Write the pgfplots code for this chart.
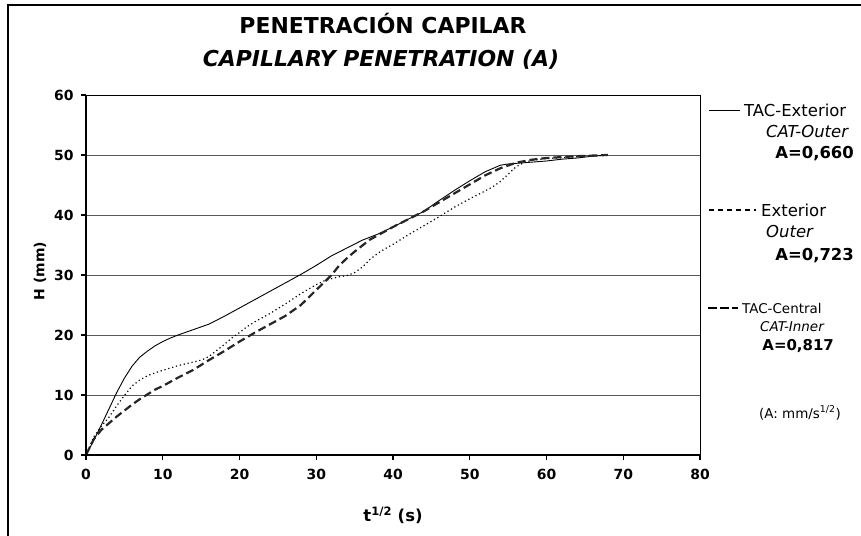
\documentclass[border=0pt]{standalone}
\usepackage{fontspec}
\setmainfont{DejaVu Sans}
\usepackage{pgfplots}
\pgfplotsset{compat=1.18}
\begin{document}
\begin{tikzpicture}[x=1bp,y=1bp]
\useasboundingbox (0,0) rectangle (861,536);
\draw[line width=2.2bp] (8,0) -- (8,531) -- (861,531);
\begin{axis}[at={(86bp,81bp)}, anchor=origin, scale only axis,
  width=614bp, height=360bp,
  xmin=0, xmax=80, ymin=0, ymax=60,
  xtick={0,10,...,80}, ytick={0,10,...,60},
  tick pos=left, tick align=outside, major tick length=5bp,
  tick style={black, line width=1.2bp},
  axis line style={black, line width=0.9bp},
  ymajorgrids, grid style={black!65, line width=0.9bp},
  tick label style={font=\fontsize{14}{16}\selectfont\bfseries},
  xticklabel style={yshift=-6bp},
  yticklabel style={xshift=-4bp},
  /pgf/number format/assume math mode=true,
  clip=false]
\addplot[black, line width=0.9bp] coordinates {
(0,0) (1,2.4) (2,5) (3,7.7) (4,10.4) (5,12.8) (6,14.8) (7,16.3) (8,17.3) (9,18.2) (10,18.9) (11,19.5) (12,20) (14,20.9) (16,21.8) (18,23.1) (20,24.5) (22,25.9) (24,27.3) (26,28.7) (28,30.1) (30,31.6) (32,33.2) (34,34.5) (36,35.8) (38,36.8) (40,38) (42,39.3) (44,40.6) (46,42.4) (48,44.1) (50,45.7) (52,47.2) (54,48.3) (55,48.5) (56,48.6) (58,48.8) (60,49.0) (62,49.3) (64,49.5) (66,49.8) (68,50)
};
\addplot[black, line width=1.2bp, dash pattern=on 1.2bp off 2.8bp] coordinates {
(0,0) (1,3) (2,4.8) (3,6.3) (4,8.2) (5,9.9) (6,11.5) (7,12.5) (8,13.2) (9,13.7) (10,14.1) (11,14.5) (12,14.9) (13,15.2) (14,15.5) (15,15.8) (16,16.4) (17,17.4) (18,18.4) (19,19.5) (20,20.4) (21,21.4) (22,22.2) (24,23.6) (26,25.2) (28,26.9) (30,28.4) (31,29) (32,29.4) (33,29.7) (34,29.9) (35,30.4) (36,31.3) (37,32.6) (38,33.6) (39,34.4) (40,35.1) (42,36.7) (44,38.2) (46,39.7) (48,41.3) (50,42.7) (52,44) (53,44.7) (54,45.6) (55,46.8) (56,48) (57,48.7) (58,49.1) (60,49.4) (64,49.7) (68,50)
};
\addplot[black!85, line width=2.2bp, dash pattern=on 8bp off 4bp] coordinates {
(0,0) (1,2.6) (2,4.2) (3,5.3) (4,6.4) (5,7.4) (6,8.4) (7,9.3) (8,10.1) (9,10.9) (10,11.5) (12,12.9) (14,14.2) (16,15.8) (18,17.3) (20,18.9) (22,20.4) (24,21.8) (26,23.2) (28,25) (30,27.5) (32,30) (33,31.6) (34,32.8) (35,33.9) (36,34.9) (37,35.9) (38,36.6) (39,37.3) (40,38) (42,39.3) (44,40.6) (46,42.1) (48,43.6) (50,45.1) (52,46.6) (54,47.8) (56,48.7) (58,49.2) (60,49.5) (64,49.8) (68,50)
};
\draw[black, line width=2bp] (rel axis cs:0,1) -- (rel axis cs:0,0) -- (rel axis cs:1,0);
\end{axis}
% titles
\node[font=\fontsize{22}{26}\selectfont\bfseries] at (383,512) {PENETRACIÓN CAPILAR};
\node[font=\fontsize{22}{26}\selectfont\bfseries\itshape] at (381,476) {CAPILLARY PENETRATION (A)};
\node[font=\fontsize{16.5}{19}\selectfont\bfseries] at (393,21) {t\textsuperscript{1/2} (s)};
\node[font=\fontsize{14}{16}\selectfont\bfseries, rotate=90] at (40,265) {H (mm)};
% legend
\draw[black, line width=0.9bp] (709,426) -- (740,426);
\node[anchor=west, inner sep=0, font=\fontsize{16.5}{19}\selectfont] at (744,426) {TAC-Exterior};
\node[anchor=west, inner sep=0, font=\fontsize{16.5}{19}\selectfont\itshape] at (766,404) {CAT-Outer};
\node[anchor=east, inner sep=0, font=\fontsize{16.5}{19}\selectfont\bfseries] at (854,382) {A=0,660};
\draw[black, line width=1.2bp, dash pattern=on 5bp off 4bp] (709,326) -- (756,326);
\node[anchor=west, inner sep=0, font=\fontsize{16.5}{19}\selectfont] at (761,326) {Exterior};
\node[anchor=west, inner sep=0, font=\fontsize{16.5}{19}\selectfont\itshape] at (766,304) {Outer};
\node[anchor=east, inner sep=0, font=\fontsize{16.5}{19}\selectfont\bfseries] at (854,280) {A=0,723};
\draw[black, line width=1.6bp, dash pattern=on 9bp off 3bp] (708,228) -- (738,228);
\node[anchor=west, inner sep=0, font=\fontsize{13.5}{16}\selectfont] at (742,228) {TAC-Central};
\node[anchor=west, inner sep=0, font=\fontsize{13.5}{16}\selectfont\itshape] at (760,209) {CAT-Inner};
\node[anchor=east, inner sep=0, font=\fontsize{15}{17}\selectfont\bfseries] at (834,190) {A=0,817};
\node[font=\fontsize{13.5}{16}\selectfont] at (800,123) {(A: mm/s\textsuperscript{1/2})};
\end{tikzpicture}
\end{document}
